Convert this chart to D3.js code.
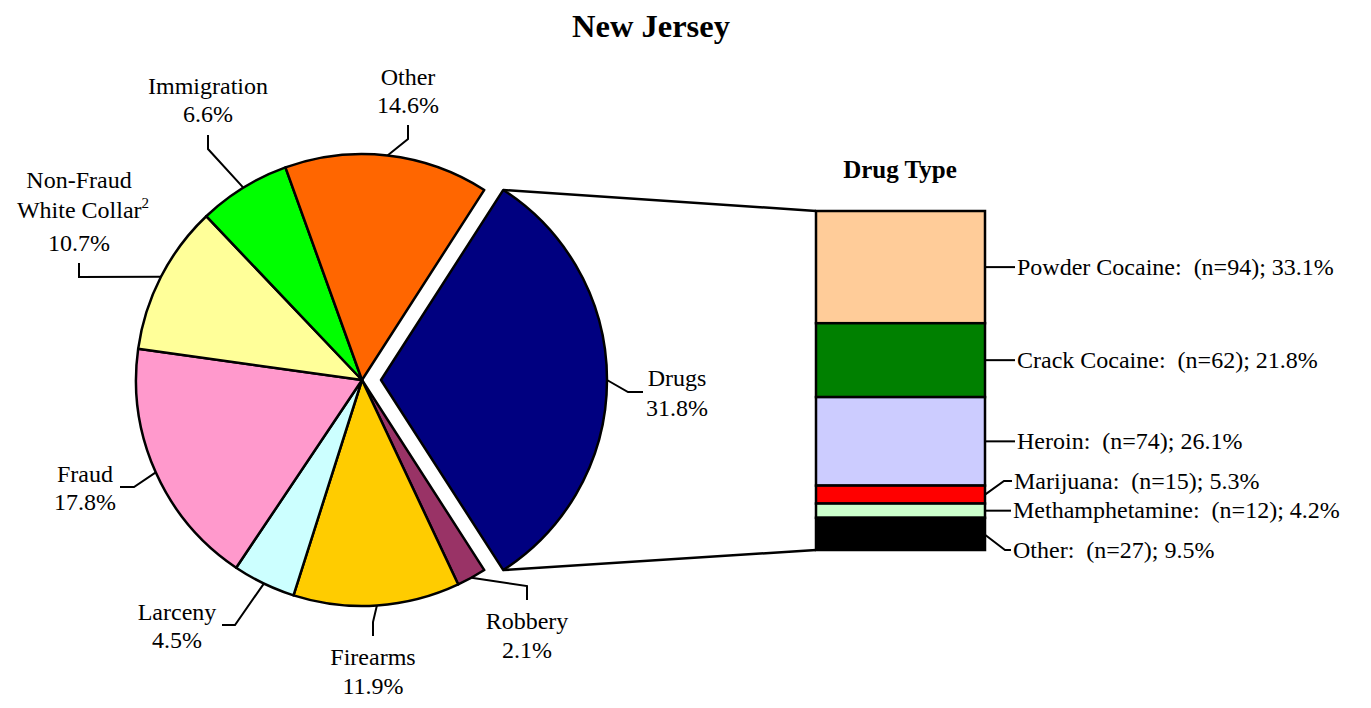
<!DOCTYPE html>
<html lang="en">
<head>
<meta charset="UTF-8">
<title>New Jersey</title>
<script src="https://d3js.org/d3.v7.min.js"></script>
<style>
  body { margin: 0; background: #fff; }
  text { font-family: "Liberation Serif", "Times New Roman", serif; fill: #000; }
</style>
</head>
<body>
<svg id="chart" width="1371" height="708"></svg>
<script>
// offense types, clockwise from the exploded Drugs slice
const crimeTypes = ["Drugs", "Robbery", "Firearms", "Larceny", "Fraud", "Non-Fraud White Collar", "Immigration", "Other"];
const crimePct = [31.8, 2.1, 11.9, 4.5, 17.8, 10.7, 6.6, 14.6];
const crimeColors = ["#000080", "#993366", "#FFCC00", "#CCFFFF", "#FF99CC", "#FFFF99", "#00FF00", "#FF6600"];

// drug breakdown, top to bottom of the bar
const drugTypes = ["Powder Cocaine", "Crack Cocaine", "Heroin", "Marijuana", "Methamphetamine", "Other"];
const drugCounts = [94, 62, 74, 15, 12, 27];
const drugPct = [33.1, 21.8, 26.1, 5.3, 4.2, 9.5];
const drugColors = ["#FFCC99", "#008000", "#CCCCFF", "#FF0000", "#CCFFCC", "#000000"];

const svg = d3.select("#chart");
const cx = 362, cy = 380, radius = 226, explode = 19;

svg.append("text")
    .attr("x", 651).attr("y", 37)
    .attr("text-anchor", "middle")
    .attr("font-size", 32.5).attr("font-weight", "bold")
    .text("New Jersey");

// pie: Drugs centred on the right-hand side
const drugsAngle = crimePct[0] / 100 * 2 * Math.PI;
const pie = d3.pie()
    .sort(null)
    .value(d => d.pct)
    .startAngle(Math.PI / 2 - drugsAngle / 2)
    .endAngle(Math.PI / 2 - drugsAngle / 2 + 2 * Math.PI);

const pieData = crimeTypes.map((name, i) => ({ name, pct: crimePct[i], color: crimeColors[i] }));
const arcs = pie(pieData);
const arc = d3.arc().innerRadius(0).outerRadius(radius);

const offset = (d, i) => {
    if (i !== 0) return [0, 0];
    const a = (d.startAngle + d.endAngle) / 2;
    return [explode * Math.sin(a), -explode * Math.cos(a)];
};

const pieG = svg.append("g").attr("transform", `translate(${cx},${cy})`);
pieG.selectAll("path")
    .data(arcs)
    .enter().append("path")
    .attr("transform", (d, i) => `translate(${offset(d, i)})`)
    .attr("d", arc)
    .attr("fill", d => d.data.color)
    .attr("stroke", "#000")
    .attr("stroke-width", 2.5)
    .attr("stroke-linejoin", "round");

// label placement (page coords)
const pieLabels = {
    "Drugs":       { elbow: [628, 392], end: [643, 392], x: 677, ys: [386, 416] },
    "Robbery":     { elbow: [527, 586], end: [527, 600], x: 527, ys: [629, 658] },
    "Firearms":    { elbow: [373, 622], end: [373, 636], x: 373, ys: [665, 694] },
    "Larceny":     { elbow: [235, 625], end: [222, 625], x: 177, ys: [620, 648] },
    "Fraud":       { elbow: [134, 487], end: [120, 487], x: 85,  ys: [482, 510] },
    "Non-Fraud White Collar": { elbow: [79, 277], end: [79, 263], x: 79, ys: [188, 218, 251] },
    "Immigration": { elbow: [208, 149], end: [208, 135], x: 208, ys: [94, 122] },
    "Other":       { elbow: [408, 139], end: [408, 125], x: 408, ys: [85, 113] }
};

arcs.forEach((d, i) => {
    const a = (d.startAngle + d.endAngle) / 2;
    const off = offset(d, i);
    const start = [cx + off[0] + radius * Math.sin(a), cy + off[1] - radius * Math.cos(a)];
    const L = pieLabels[d.data.name];
    svg.append("path")
        .attr("d", d3.line()([start, L.elbow, L.end]))
        .attr("fill", "none")
        .attr("stroke", "#000")
        .attr("stroke-width", 2);

    const pct = d.data.pct.toFixed(1) + "%";
    const t = svg.append("text").attr("text-anchor", "middle").attr("font-size", 24);
    if (d.data.name === "Non-Fraud White Collar") {
        t.append("tspan").attr("x", L.x).attr("y", L.ys[0]).text("Non-Fraud");
        const l2 = t.append("tspan").attr("x", L.x + 4).attr("y", L.ys[1]);
        l2.append("tspan").text("White Collar");
        l2.append("tspan").attr("font-size", 15).attr("dy", -10).text("2");
        t.append("tspan").attr("x", L.x).attr("y", L.ys[2]).text(pct);
    } else {
        t.append("tspan").attr("x", L.x).attr("y", L.ys[0]).text(d.data.name);
        t.append("tspan").attr("x", L.x).attr("y", L.ys[1]).text(pct);
    }
});

// stacked bar for drug type
const barX = 816, barW = 169, barTop = 211, barBottom = 550;
const y = d3.scaleLinear().domain([0, d3.sum(drugPct)]).range([barTop, barBottom]);
let cum = 0;
const segs = drugTypes.map((name, i) => {
    const s = { name, n: drugCounts[i], pct: drugPct[i], color: drugColors[i], y0: cum, y1: cum + drugPct[i] };
    cum += drugPct[i];
    return s;
});

// connector lines from the exploded slice to the bar
const dArc = arcs[0];
const dOff = offset(dArc, 0);
const edgePt = ang => [cx + dOff[0] + radius * Math.sin(ang), cy + dOff[1] - radius * Math.cos(ang)];
svg.append("path")
    .attr("d", d3.line()([edgePt(dArc.startAngle), [barX, y(0)]]))
    .attr("stroke", "#000").attr("stroke-width", 2.5);
svg.append("path")
    .attr("d", d3.line()([edgePt(dArc.endAngle), [barX, y(cum)]]))
    .attr("stroke", "#000").attr("stroke-width", 2.5);

svg.append("g").selectAll("rect")
    .data(segs)
    .enter().append("rect")
    .attr("x", barX)
    .attr("y", d => y(d.y0))
    .attr("width", barW)
    .attr("height", d => y(d.y1) - y(d.y0))
    .attr("fill", d => d.color)
    .attr("stroke", "#000")
    .attr("stroke-width", 2.5);

svg.append("text")
    .attr("x", 900).attr("y", 178)
    .attr("text-anchor", "middle")
    .attr("font-size", 25).attr("font-weight", "bold")
    .text("Drug Type");

// bar labels: label centre y for the small slices is nudged apart
const barLabelY = { "Marijuana": 481, "Methamphetamine": 510, "Other": 550 };
const barRight = barX + barW;
segs.forEach(s => {
    const mid = (y(s.y0) + y(s.y1)) / 2;
    const ly = barLabelY[s.name] !== undefined ? barLabelY[s.name] : mid;
    let pts;
    if (s.name === "Other") pts = [[barRight, y(s.y0) + 17], [1005, ly], [1011, ly]];
    else if (s.name === "Marijuana") pts = [[barRight, mid], [1004, ly], [1012, ly]];
    else if (s.name === "Methamphetamine") pts = [[barRight, mid], [1011, mid]];
    else pts = [[barRight, mid], [1015, mid]];
    svg.append("path")
        .attr("d", d3.line()(pts))
        .attr("fill", "none")
        .attr("stroke", "#000").attr("stroke-width", 2);
    const tx = pts[pts.length - 1][0] + 2;
    svg.append("text")
        .attr("x", tx).attr("y", ly + 8)
        .attr("font-size", 24)
        .attr("xml:space", "preserve")
        .style("white-space", "pre")
        .text(`${s.name}:  (n=${s.n}); ${s.pct.toFixed(1)}%`);
});
</script>
</body>
</html>
